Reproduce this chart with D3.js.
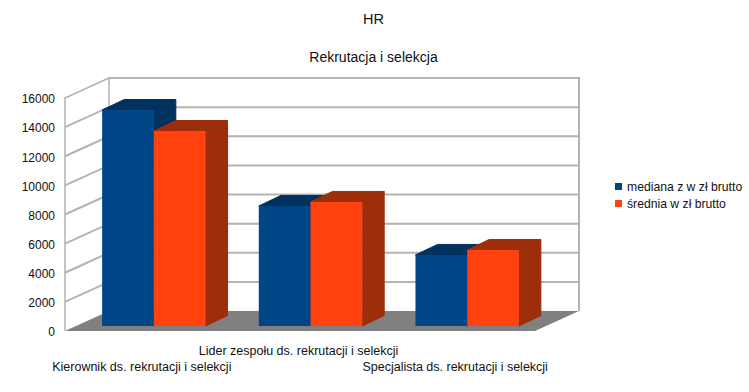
<!DOCTYPE html>
<html>
<head>
<meta charset="utf-8">
<script src="https://cdn.jsdelivr.net/npm/d3@7"></script>
<style>
    body { margin: 0; background: #fff; }
    text { font-family: "Liberation Sans", Arial, sans-serif; fill: #111; }
</style>
</head>
<body>
<div id="chart"></div>
<script>
const categories = [
    "Kierownik ds. rekrutacji i selekcji",
    "Lider zespołu ds. rekrutacji i selekcji",
    "Specjalista ds. rekrutacji i selekcji"
];
const seriesNames = ["mediana z w zł brutto", "średnia w zł brutto"];
const mediana = [14830, 8240, 4880];
const srednia = [13390, 8520, 5220];
const yTicks = [0, 2000, 4000, 6000, 8000, 10000, 12000, 14000, 16000];
const frontColors = ["#004586", "#ff420e"];
const sideColors = ["#00315f", "#9e2d09"];
const topColors = ["#00315f", "#9e2d09"];

const width = 749;
const height = 392;
const left = 65;
const right = 535;
const base = 331;
const top16k = 98;
const wallDx = 44;
const wallDy = 20;
const barDx = 22;
const barDy = 10.5;
// bars stand a bit inside the floor, not on its front edge
const insetX = 10.5;
const insetY = 5;

let svg = d3.select("#chart")
    .append("svg")
    .attr("width", width)
    .attr("height", height);

let xScale = d3.scaleBand()
    .domain(categories)
    .range([left, right])
    .paddingInner(0.34)
    .paddingOuter(0.17);

let yScale = d3.scaleLinear()
    .domain([0, 16000])
    .range([base, top16k]);

let pts = (arr) => arr.map(p => p.join(",")).join(" ");

// walls and floor
svg.append("polygon")
    .attr("points", pts([[left, base], [left + wallDx, base - wallDy], [right + wallDx, base - wallDy], [right, base]]))
    .attr("fill", "#808080");

let yMax = yScale(16000);
svg.append("path")
    .attr("d", `M${left},${base}V${yMax}L${left + wallDx},${yMax - wallDy}V${base - wallDy}`)
    .attr("fill", "none")
    .attr("stroke", "#b3b3b3")
    .attr("stroke-width", 1.5);

svg.append("path")
    .attr("d", `M${left + wallDx},${yMax - wallDy}H${right + wallDx}V${base - wallDy}`)
    .attr("fill", "none")
    .attr("stroke", "#b3b3b3")
    .attr("stroke-width", 2);

svg.selectAll(".grid")
    .data(yTicks.slice(1, -1))
    .join("path")
    .attr("class", "grid")
    .attr("d", d => `M${left},${yScale(d)}L${left + wallDx},${yScale(d) - wallDy}H${right + wallDx}`)
    .attr("fill", "none")
    .attr("stroke", "#b3b3b3")
    .attr("stroke-width", 2);

// y axis labels
let yAxis = d3.axisLeft(yScale)
    .tickValues(yTicks)
    .tickFormat(d3.format("d"))
    .tickSize(0)
    .tickPadding(10);

let yG = svg.append("g")
    .attr("transform", `translate(${left}, 1)`)
    .call(yAxis);
yG.select(".domain").remove();
yG.selectAll("text")
    .attr("font-size", "12px")
    .style("font-family", '"Liberation Sans", Arial, sans-serif');

// bars
let barW = xScale.bandwidth() / 2;
[mediana, srednia].forEach((values, s) => {
    categories.forEach((cat, i) => {
        let x0 = xScale(cat) + s * barW + insetX;
        let x1 = x0 + barW;
        let y0 = yScale(values[i]) - insetY;
        let y1 = base - insetY;

        svg.append("polygon")
            .attr("points", pts([[x0, y0], [x0 + barDx, y0 - barDy], [x1 + barDx, y0 - barDy], [x1, y0]]))
            .attr("fill", topColors[s])
            .attr("stroke", topColors[s])
            .attr("stroke-linejoin", "round");

        svg.append("polygon")
            .attr("points", pts([[x1, y0], [x1 + barDx, y0 - barDy], [x1 + barDx, y1 - barDy], [x1, y1]]))
            .attr("fill", sideColors[s])
            .attr("stroke", sideColors[s])
            .attr("stroke-linejoin", "round");

        svg.append("rect")
            .attr("x", x0)
            .attr("y", y0)
            .attr("width", barW)
            .attr("height", y1 - y0)
            .attr("fill", frontColors[s]);
    });
});

// category labels, the middle one sits on a higher row
svg.selectAll(".cat")
    .data(categories)
    .join("text")
    .attr("class", "cat")
    .attr("x", d => xScale(d) + xScale.bandwidth() / 2 - 1.5)
    .attr("y", (d, i) => i === 1 ? 355 : 371)
    .attr("text-anchor", "middle")
    .attr("font-size", "12.5px")
    .text(d => d);

// titles
svg.append("text")
    .attr("x", 373.5)
    .attr("y", 24)
    .attr("text-anchor", "middle")
    .attr("font-size", "14.5px")
    .text("HR");

svg.append("text")
    .attr("x", 373.5)
    .attr("y", 62)
    .attr("text-anchor", "middle")
    .attr("font-size", "14px")
    .text("Rekrutacja i selekcja");

// legend
seriesNames.forEach((name, i) => {
    svg.append("rect")
        .attr("x", 615)
        .attr("y", 183 + i * 17)
        .attr("width", 7)
        .attr("height", 7)
        .attr("fill", frontColors[i]);
    svg.append("text")
        .attr("x", 627)
        .attr("y", 191 + i * 17)
        .attr("font-size", "12.2px")
        .text(name);
});
</script>
</body>
</html>
